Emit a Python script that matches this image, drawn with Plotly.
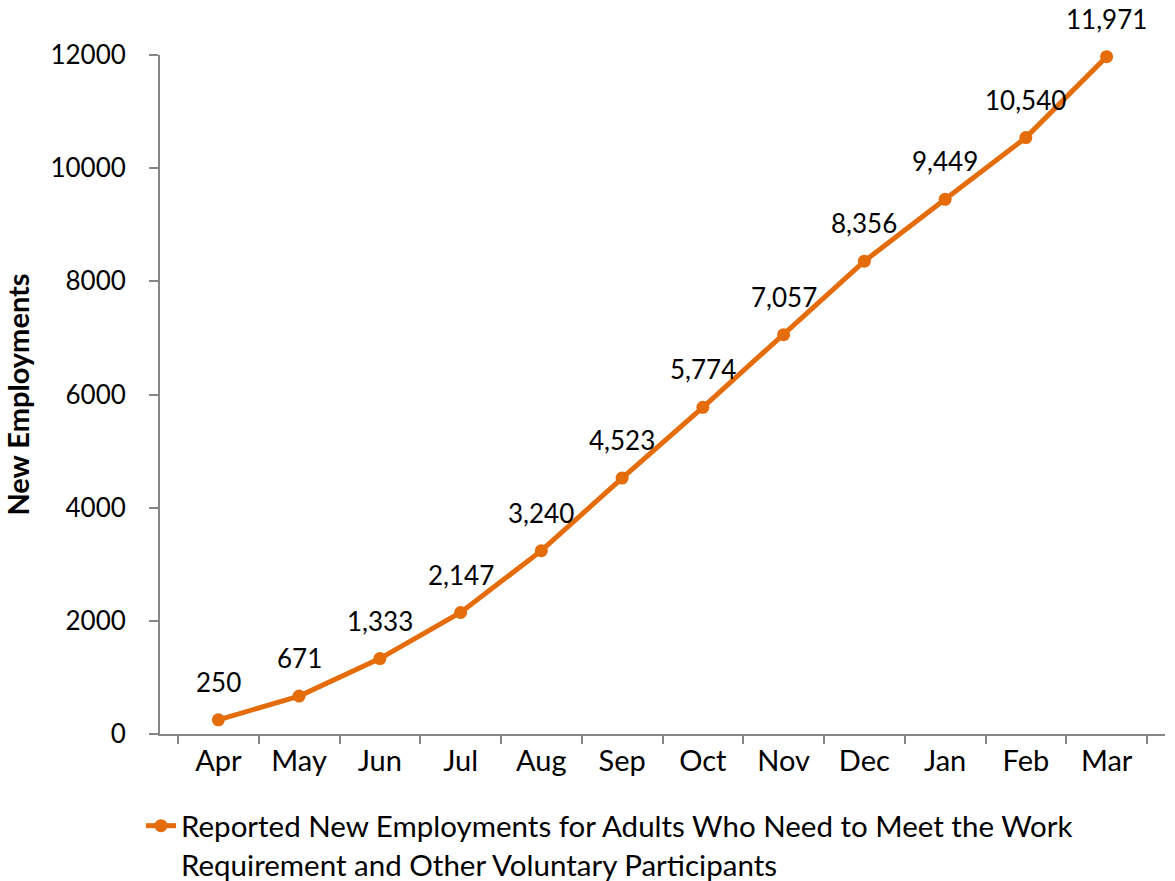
import plotly.graph_objects as go

months = ["Apr", "May", "Jun", "Jul", "Aug", "Sep", "Oct", "Nov", "Dec", "Jan", "Feb", "Mar"]
new_employments = [250, 671, 1333, 2147, 3240, 4523, 5774, 7057, 8356, 9449, 10540, 11971]
y_ticks = [0, 2000, 4000, 6000, 8000, 10000, 12000]
series_name = "Reported New Employments for Adults Who Need to Meet the Work<br>Requirement and Other Voluntary Participants"

ORANGE = "#E46C0A"
GRAY = "#868686"
FONT = "Lato"

fig = go.Figure()
fig.add_trace(go.Scatter(
    x=months, y=new_employments, mode="lines+markers",
    name=series_name,
    line=dict(color=ORANGE, width=5),
    marker=dict(color=ORANGE, size=13),
    cliponaxis=False,
))

for m, v in zip(months, new_employments):
    fig.add_annotation(x=m, y=v, text=f"{v:,}", showarrow=False,
                       yshift=38, font=dict(family=FONT, size=26, color="black"))

fig.update_layout(
    width=1175, height=881,
    margin=dict(l=160, r=10, t=55, b=147, autoexpand=False),
    paper_bgcolor="white", plot_bgcolor="white",
    font=dict(family=FONT, size=26, color="black"),
    showlegend=True,
    legend=dict(orientation="h", x=141 / 1175, xref="container", xanchor="left",
                y=1 - 800 / 881, yref="container", yanchor="top",
                font=dict(family=FONT, size=29.5, color="black"), valign="top",
                itemwidth=30, tracegroupgap=0),
    xaxis=dict(
        type="category", showgrid=False, showline=True, linecolor=GRAY, linewidth=2,
        ticks="outside", tickson="boundaries", ticklen=8, tickcolor=GRAY, tickwidth=2,
        tickfont=dict(family=FONT, size=29, color="black"), automargin=False,
    ),
    yaxis=dict(
        range=[0, 12000], tickvals=y_ticks, tickformat="d", showgrid=False,
        showline=True, linecolor=GRAY, linewidth=2, zeroline=False,
        ticks="outside", ticklen=9, tickcolor=GRAY, tickwidth=2,
        ticklabelstandoff=18, automargin=False,
        tickfont=dict(family=FONT, size=26, color="black"),
        title=dict(text="<b>New Employments</b>", font=dict(family=FONT, size=29, color="black"), standoff=12),
    ),
)

fig.write_html("out.html")
